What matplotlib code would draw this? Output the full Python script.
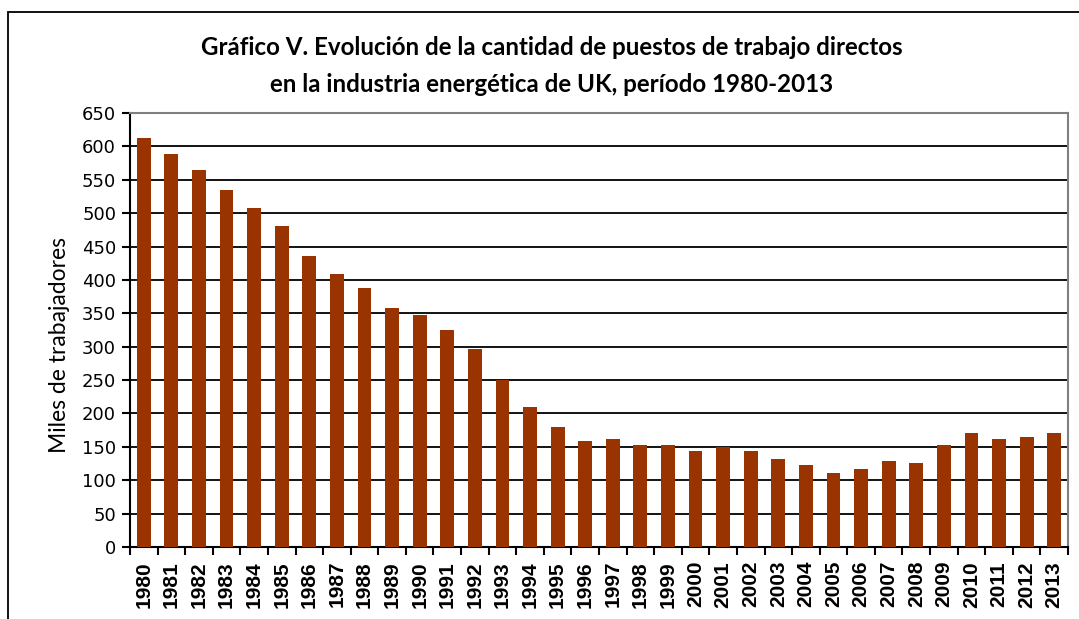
import matplotlib
matplotlib.use("Agg")
import matplotlib.pyplot as plt
from matplotlib.patches import Rectangle
from matplotlib.ticker import FixedLocator, MultipleLocator

# === DATOS ===
anios = list(range(1980, 2014))
puestos = [612, 589, 565, 535, 508, 481, 436, 409, 388, 358,
           347, 325, 296, 250, 210, 180, 159, 162, 153, 153,
           144, 150, 144, 132, 123, 111, 117, 129, 126, 153,
           171, 162, 165, 171]

titulo = ("Gráfico V. Evolución de la cantidad de puestos de trabajo directos\n"
          "en la industria energética de UK, período 1980-2013")
etiqueta_y = "Miles de trabajadores"

COLOR_BARRA = "#993300"

fig = plt.figure(figsize=(10.79, 6.19), dpi=100)

# marco exterior del gráfico (cortado abajo y a la derecha)
marco = Rectangle((8 / 1079, -0.1), 1.2, 1.1 - 12 / 619, transform=fig.transFigure,
                  fill=False, edgecolor="black", linewidth=1.3, zorder=0)
fig.patches.append(marco)

ax = fig.add_axes([130 / 1079, 1 - 547 / 619, (1068 - 130) / 1079, (547 - 113) / 619])

x = list(range(len(anios)))
ax.bar(x, puestos, width=0.5, color=COLOR_BARRA, zorder=3)

ax.set_xlim(-0.5, len(anios) - 0.5)
ax.set_ylim(0, 650)
ax.yaxis.set_major_locator(MultipleLocator(50))

# líneas de la cuadrícula
ax.grid(axis="y", color="black", linewidth=1.3, zorder=1)
ax.set_axisbelow(True)

for lado in ["top", "right"]:
    ax.spines[lado].set_color("#808080")
    ax.spines[lado].set_linewidth(1.5)
ax.spines["left"].set_linewidth(1.5)
ax.spines["bottom"].set_linewidth(1.5)

# ticks del eje x entre categorías
ax.xaxis.set_major_locator(FixedLocator([i - 0.5 for i in range(len(anios) + 1)]))
ax.xaxis.set_minor_locator(FixedLocator(x))
ax.tick_params(axis="x", which="major", length=6, width=1.5, labelbottom=False)
ax.tick_params(axis="x", which="minor", length=0, pad=10)
ax.set_xticklabels([str(a) for a in anios], minor=True, rotation=90,
                   fontsize=15, fontweight="bold", family="Liberation Sans")

ax.tick_params(axis="y", length=6, width=1.5, pad=4, labelsize=13)
for lbl in ax.get_yticklabels():
    lbl.set_family("DejaVu Sans")

fig.text(60 / 1079, 1 - 345 / 619, etiqueta_y, rotation=90, ha="center", va="center",
         fontsize=16.5, family="Lato")

fig.text(552 / 1079, 1 - 66 / 619, titulo, ha="center", va="center",
         fontsize=17.4, fontweight="bold", family="Lato", linespacing=1.7)

fig.savefig("out.png", dpi=100)
